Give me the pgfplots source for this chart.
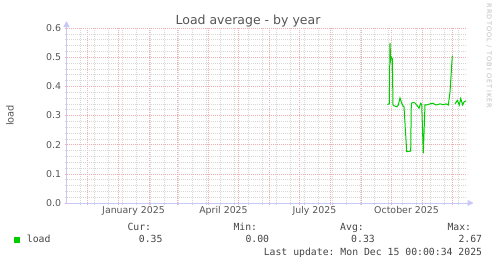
\documentclass[border=0pt]{standalone}
\usepackage{fontspec}
\setmainfont{DejaVu Sans}
\setmonofont{DejaVu Sans Mono}
\newfontfamily\wmfont[LetterSpace=18]{DejaVu Sans}
\usepackage{pgfplots}
\pgfplotsset{compat=1.18}
\usetikzlibrary{arrows.meta}
\definecolor{txt}{HTML}{555555}
\definecolor{leg}{HTML}{444444}
\definecolor{mgrid}{HTML}{EDB0B0}
\definecolor{ngrid}{HTML}{D8D8D8}
\definecolor{axc}{HTML}{C8C8F8}
\definecolor{loadg}{HTML}{00CC00}
\definecolor{wm}{HTML}{BBBBBB}
\begin{document}
\begin{tikzpicture}[x=1bp,y=1bp]
\useasboundingbox (0,0) rectangle (497,264);
\begin{axis}[
  at={(66.5bp,61bp)}, anchor=south west,
  width=400bp, height=175bp, scale only axis,
  xmin=0, xmax=400, ymin=0, ymax=0.6,
  axis lines=left,
  axis line style={draw=axc, line width=1bp, -{Triangle[length=6bp,width=6bp]}, shorten >=-7bp},
  xtick={21,52,83,111,142,172,203,233,264,295,325,356,386},
  xticklabels={},
  minor xtick={14,28,...,392},
  ytick={0,0.1,0.2,0.3,0.4,0.5,0.6},
  minor y tick num=4,
  grid=both,
  major grid style={draw=mgrid, dash pattern=on 1bp off 1bp, line width=0.6bp},
  minor grid style={draw=ngrid, dash pattern=on 1bp off 1bp, line width=0.6bp},
  tick align=outside,
  major tick length=2bp, minor tick length=2bp,
  every major tick/.append style={draw=mgrid, line width=0.6bp},
  every minor tick/.append style={draw=ngrid, line width=0.6bp},
  extra x ticks={67,157,248,340},
  extra x tick labels={January 2025,April 2025,July 2025,October 2025},
  extra x tick style={grid=none, major tick length=0pt},
  tick label style={font=\fontsize{9.4bp}{11bp}\selectfont, text=txt},
  yticklabel style={/pgf/number format/.cd, fixed, fixed zerofill, precision=1, assume math mode=true},
]
\addplot[loadg, line width=1bp] coordinates {
(320.8,0.338) (322.8,0.340) (323.5,0.548) (324.2,0.49) (324.8,0.50) (325.8,0.495)
(326.5,0.335) (328.5,0.332) (330.5,0.330) (331.8,0.336) (333.5,0.360) (335.2,0.342)
(336.5,0.333) (337.5,0.330) (340.2,0.176) (344.2,0.178) (344.8,0.342) (346.8,0.345)
(348.5,0.343) (350.2,0.336) (352.5,0.325) (354.2,0.342) (355.2,0.338) (356.8,0.170)
(358.5,0.337) (360.2,0.336) (363.5,0.340) (366.5,0.342) (369.5,0.336) (373.5,0.340)
(376.5,0.337) (379.5,0.340) (381.8,0.336) (383.5,0.38) (385.8,0.505)
};
\addplot[loadg, line width=1bp] coordinates {
(388.5,0.340) (389.5,0.345) (390.8,0.352) (392.8,0.336) (394.2,0.358) (396.2,0.336)
(397.5,0.347) (399.5,0.350)
};
\end{axis}
\node[anchor=base, text=txt, font=\fontsize{12.5bp}{14bp}\selectfont] at (248,240) {Load average - by year};
\node[rotate=90, text=txt, font=\fontsize{9.8bp}{11bp}\selectfont] at (10,148.5) {load};
\node[rotate=-90, text=wm, font=\wmfont\fontsize{6.5bp}{7bp}\selectfont] at (489,208) {RRDTOOL / TOBI OETIKER};
\fill[loadg] (14,20.7) rectangle (20,26.7);
\begin{scope}[every node/.style={inner sep=0pt, text=leg, font=\ttfamily\fontsize{9.8bp}{11bp}\selectfont}]
\node[anchor=base west] at (26.7,21.1) {load};
\node[anchor=base west] at (127.3,33.1) {Cur:};
\node[anchor=base west] at (233.3,33.1) {Min:};
\node[anchor=base west] at (340,33.1) {Avg:};
\node[anchor=base west] at (447.3,33.1) {Max:};
\node[anchor=base east] at (162.7,21.1) {0.35};
\node[anchor=base east] at (269.3,21.1) {0.00};
\node[anchor=base east] at (375,21.1) {0.33};
\node[anchor=base east] at (482.3,21.1) {2.67};
\node[anchor=base east] at (482.3,8.7) {Last update: Mon Dec 15 00:00:34 2025};
\end{scope}
\end{tikzpicture}
\end{document}
